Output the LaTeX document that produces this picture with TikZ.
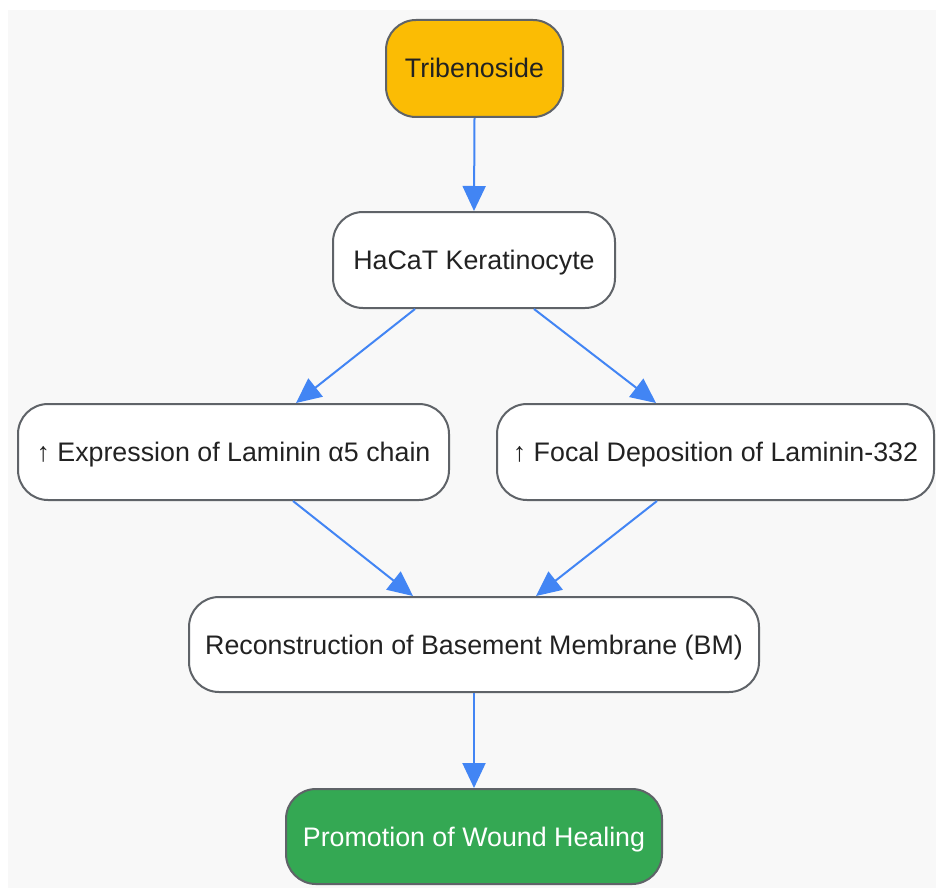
\documentclass[tikz,border=0pt]{standalone}
\usepackage{fontspec}
\setmainfont{Liberation Sans}
\usetikzlibrary{arrows.meta}
\definecolor{bggray}{HTML}{F8F8F8}
\definecolor{bordergray}{HTML}{5F6368}
\definecolor{txt}{HTML}{222222}
\definecolor{yel}{HTML}{FBBC04}
\definecolor{grn}{HTML}{34A853}
\definecolor{blu}{HTML}{4285F4}
\tikzset{
  box/.style={draw=bordergray, line width=2pt, fill=white, rounded corners=30pt,
    inner sep=0pt, text=txt, font=\fontsize{26.8}{30}\selectfont, anchor=center,
    text height=19pt, text depth=0pt},
  conn/.style={draw=blu, line width=2pt, -{Triangle[length=25pt,width=23pt]}}
}
\begin{document}
\begin{tikzpicture}[x=1pt,y=-1pt]
\useasboundingbox (0,0) rectangle (936,888);
\fill[bggray] (8,10) rectangle (936,888);
\node[box, fill=yel, minimum width=177pt, minimum height=97pt] (trib) at (474.5,68.5) {Tribenoside};
\node[box, minimum width=282pt, minimum height=96pt] (hacat) at (474,260) {HaCaT Keratinocyte};
\node[box, minimum width=431pt, minimum height=96pt] (expr) at (233.5,452) {↑ Expression of Laminin α5 chain};
\node[box, minimum width=437pt, minimum height=96pt] (focal) at (715.5,452) {↑ Focal Deposition of Laminin-332};
\node[box, minimum width=570pt, minimum height=95pt] (recon) at (474,644.5) {Reconstruction of Basement Membrane (BM)};
\node[box, fill=grn, text=white, minimum width=376pt, minimum height=95pt] (prom) at (474,836.5) {Promotion of Wound Healing};
\draw[conn] (trib.south) -- (hacat.north);
\draw[conn] (hacat.south -| 415,0) -- (expr.north -| 296,0);
\draw[conn] (hacat.south -| 534,0) -- (focal.north -| 656,0);
\draw[conn] (expr.south -| 293,0) -- (recon.north -| 413,0);
\draw[conn] (focal.south -| 657,0) -- (recon.north -| 536,0);
\draw[conn] (recon.south) -- (prom.north);
\end{tikzpicture}
\end{document}
